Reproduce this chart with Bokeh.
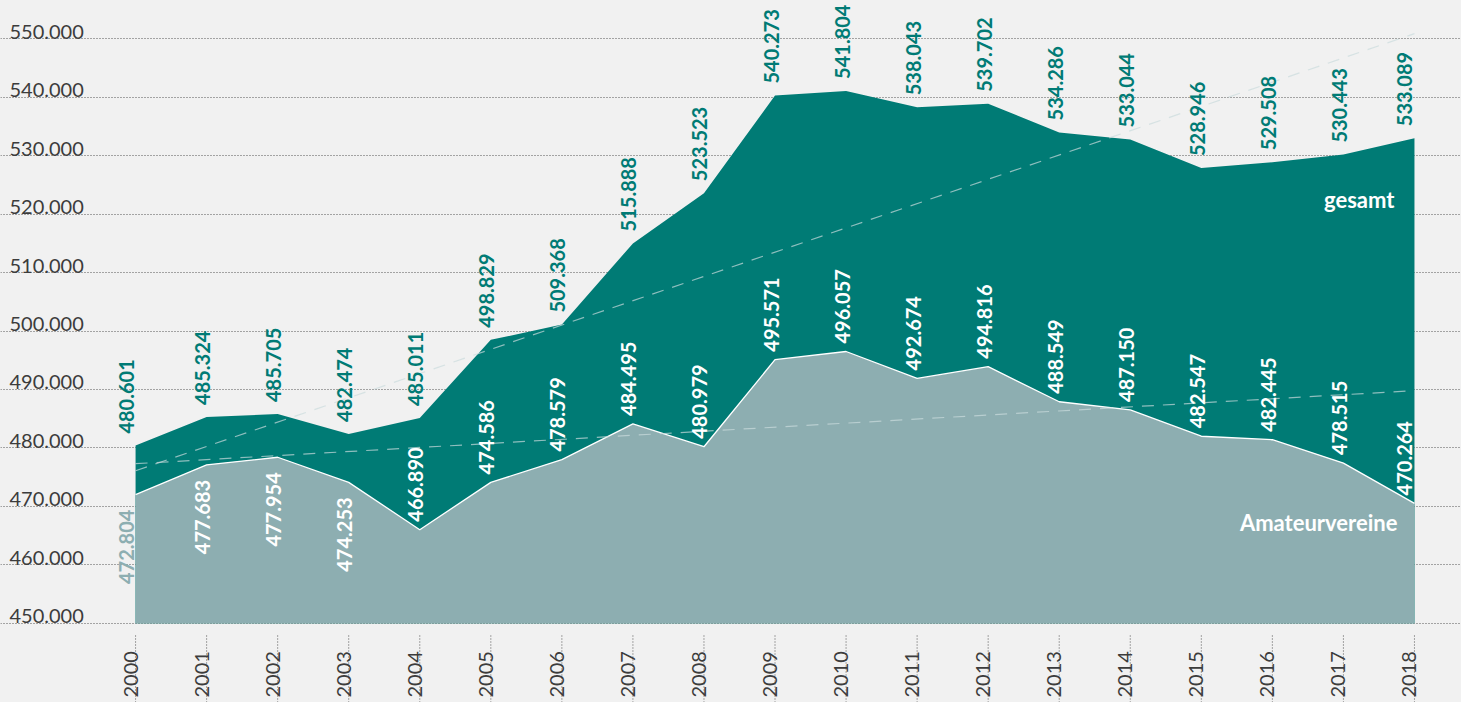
import math
from bokeh.plotting import figure
from bokeh.models import ColumnDataSource, Range1d, FixedTicker, Grid
from bokeh.core.properties import value
from bokeh.embed import file_html
from bokeh.resources import INLINE

# ---------------- data (in thousands) ----------------
years = list(range(2000, 2019))
year_labels = [str(y) for y in years]

# outline of the areas as drawn in the picture
gesamt = [480.4, 485.3, 485.8, 482.4, 485.1, 498.5, 501.1, 515.0, 523.6, 540.3,
          541.1, 538.3, 538.9, 534.0, 532.8, 527.9, 528.9, 530.2, 533.0]
amateur = [472.0, 477.1, 478.4, 474.1, 466.0, 474.1, 478.0, 484.1, 480.2, 495.1,
           496.5, 491.9, 493.9, 487.9, 486.5, 482.0, 481.4, 477.4, 470.5]

# printed value labels
gesamt_labels = ["480.601", "485.324", "485.705", "482.474", "485.011", "498.829",
                 "509.368", "515.888", "523.523", "540.273", "541.804", "538.043",
                 "539.702", "534.286", "533.044", "528.946", "529.508", "530.443",
                 "533.089"]
amateur_labels = ["472.804", "477.683", "477.954", "474.253", "466.890", "474.586",
                  "478.579", "484.495", "480.979", "495.571", "496.057", "492.674",
                  "494.816", "488.549", "487.150", "482.547", "482.445", "478.515",
                  "470.264"]

# dashed trend lines (start 2000, end 2018)
trend_years = [2000, 2018]
trend_gesamt = [476.1, 550.9]
trend_amateur = [477.3, 489.8]

y_ticks = [450, 460, 470, 480, 490, 500, 510, 520, 530, 540, 550]
y_tick_labels = ["450.000", "460.000", "470.000", "480.000", "490.000", "500.000",
                 "510.000", "520.000", "530.000", "540.000", "550.000"]

# ---------------- style ----------------
BG = "#f1f1f1"
TEAL = "#007b75"
GREY_TEAL = "#8daeb1"
TXT = "#3c3c3c"
FONT = value("Lato")

W, H = 1461, 702
X0, X1 = 1998.099, 2018.662
Y0, Y1 = 436.43, 556.57
PX_PER_Y = H / (Y1 - Y0)

p = figure(width=W, height=H, x_range=Range1d(X0, X1), y_range=Range1d(Y0, Y1),
           output_backend="svg", toolbar_location=None,
           x_axis_location=None, y_axis_location=None, min_border=0,
           background_fill_color=BG, border_fill_color=BG, outline_line_color=None)

# remove default grids, add dotted horizontal grid
for g in list(p.grid):
    g.visible = False
grid = Grid(dimension=1, ticker=FixedTicker(ticks=y_ticks),
            grid_line_color="#555555", grid_line_dash="1 2", grid_line_width=1)
p.add_layout(grid)

# areas
p.varea(x=years, y1=y_ticks[0], y2=gesamt, fill_color=TEAL)
p.varea(x=years, y1=y_ticks[0], y2=amateur, fill_color=GREY_TEAL)
p.line(years, amateur, line_color="white", line_width=1.3)

# trend lines
for tr in (trend_gesamt, trend_amateur):
    p.line(trend_years, tr, line_color="#cadcdd", line_alpha=0.7,
           line_width=1.2, line_dash="12 9")

# x ticks (dotted) and year labels
tick_top = y_ticks[0] - 12.3 / PX_PER_Y
p.segment(x0=years, y0=[Y0] * len(years), x1=years, y1=[tick_top] * len(years),
          line_color="#555555", line_dash="1 2", line_width=1)
p.text(x=years, y=[Y0] * len(years), text=year_labels, angle=math.pi / 2,
       text_align="left", text_baseline="alphabetic", x_offset=-5, y_offset=-5,
       text_color=TXT, text_font=FONT, text_font_size="20px")

# y tick labels above the grid lines
p.text(x=[X0] * len(y_ticks), y=y_ticks, text=y_tick_labels,
       text_align="left", text_baseline="alphabetic", x_offset=9, y_offset=-7,
       text_color=TXT, text_font=FONT, text_font_size="20px")

n = len(years)
xo = [-9 if i == 0 else (-10 if i == n - 1 else -4) for i in range(n)]

# gesamt value labels
src_g = ColumnDataSource(dict(x=years, y=gesamt, t=gesamt_labels, xo=xo))
p.text(x="x", y="y", text="t", x_offset="xo", y_offset=-12, source=src_g,
       angle=math.pi / 2, text_align="left", text_baseline="middle",
       text_color=TEAL, text_font=FONT, text_font_style="bold", text_font_size="20px")

# amateur value labels: first four below the line, rest above
below = [i < 4 for i in range(n)]
src_a_up = ColumnDataSource(dict(
    x=[years[i] for i in range(n) if not below[i]],
    y=[amateur[i] for i in range(n) if not below[i]],
    t=[amateur_labels[i] for i in range(n) if not below[i]],
    xo=[xo[i] for i in range(n) if not below[i]]))
p.text(x="x", y="y", text="t", x_offset="xo", y_offset=-8, source=src_a_up,
       angle=math.pi / 2, text_align="left", text_baseline="middle",
       text_color="white", text_font=FONT, text_font_style="bold", text_font_size="20px")

src_a_dn = ColumnDataSource(dict(
    x=[years[i] for i in range(n) if below[i]],
    y=[amateur[i] for i in range(n) if below[i]],
    t=[amateur_labels[i] for i in range(n) if below[i]],
    xo=[xo[i] for i in range(n) if below[i]],
    c=[GREY_TEAL if i == 0 else "white" for i in range(n) if below[i]]))
p.text(x="x", y="y", text="t", x_offset="xo", y_offset=15, source=src_a_dn,
       angle=math.pi / 2, text_align="right", text_baseline="middle",
       text_color="c", text_font=FONT, text_font_style="bold", text_font_size="20px")

# series names
p.text(x=[years[-1]], y=[gesamt[-1]], text=["gesamt"], x_offset=-20, y_offset=61,
       text_align="right", text_baseline="alphabetic", text_color="white",
       text_font=FONT, text_font_style="bold", text_font_size="22px")
p.text(x=[years[-1]], y=[amateur[-1]], text=["Amateurvereine"], x_offset=-17,
       y_offset=19, text_align="right", text_baseline="alphabetic",
       text_color="white", text_font=FONT, text_font_style="bold",
       text_font_size="22px")

html = file_html(p, INLINE)
html = html.replace("</head>", "<style>html,body{background:%s;}</style></head>" % BG, 1)
open("out.html", "w").write(html)
